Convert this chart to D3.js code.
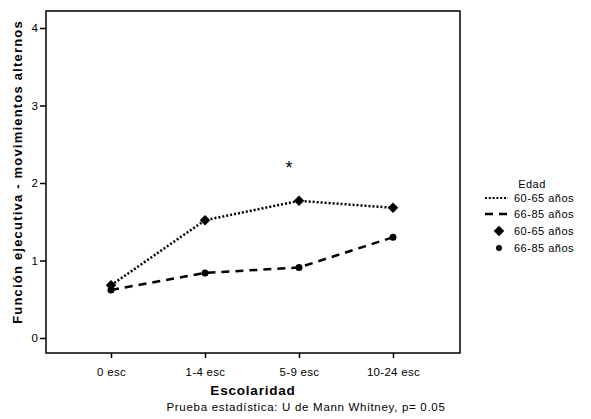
<!DOCTYPE html>
<html>
<head>
<meta charset="utf-8">
<script src="https://cdn.jsdelivr.net/npm/d3@7"></script>
<style>
  body { margin: 0; background: #fff; }
  text { font-family: "Liberation Sans", Arial, sans-serif; fill: #000; }
</style>
</head>
<body>
<div id="chart"></div>
<script>
// Data
const categories = ["0 esc", "1-4 esc", "5-9 esc", "10-24 esc"];
const grupo6065 = [0.68, 1.52, 1.77, 1.68];
const grupo6685 = [0.62, 0.84, 0.91, 1.30];
const yTicks = [0, 1, 2, 3, 4];
const seriesNames = ["60-65 años", "66-85 años"];
const significant = [{ cat: "5-9 esc", value: 2.24 }];

// Layout
const width = 591, height = 419;
const frame = { left: 46, right: 460, top: 11, bottom: 353 };
const font = "Liberation Sans, Arial, sans-serif";

const svg = d3.select("#chart").append("svg")
    .attr("width", width)
    .attr("height", height);

// Scales
const x = d3.scalePoint()
    .domain(categories)
    .range([111, 393]);

const y = d3.scaleLinear()
    .domain([0, 4])
    .range([338, 28]);

// Frame
svg.append("rect")
    .attr("x", frame.left)
    .attr("y", frame.top)
    .attr("width", frame.right - frame.left)
    .attr("height", frame.bottom - frame.top)
    .attr("fill", "none")
    .attr("stroke", "#000")
    .attr("stroke-width", 1.5);

// Y axis
const yAxis = svg.append("g")
    .attr("transform", "translate(" + frame.left + ",0)")
    .call(d3.axisLeft(y).tickValues(yTicks).tickSize(6).tickPadding(2).tickFormat(d3.format("d")));
yAxis.select(".domain").remove();
yAxis.selectAll("line").attr("stroke", "#000").attr("stroke-width", 1.5);
yAxis.selectAll("text").attr("fill", "#000").style("font-size", "11.5px").style("font-family", font);

// X axis
const xAxis = svg.append("g")
    .attr("transform", "translate(0," + frame.bottom + ")")
    .call(d3.axisBottom(x).tickSize(5).tickPadding(10));
xAxis.select(".domain").remove();
xAxis.selectAll("line").attr("stroke", "#000").attr("stroke-width", 1.5);
xAxis.selectAll("text").attr("fill", "#000").style("font-size", "11.5px").style("font-family", font)
    .style("letter-spacing", "0.3px");

// Axis titles
svg.append("text")
    .attr("transform", "translate(22,172) rotate(-90)")
    .attr("text-anchor", "middle")
    .style("font-size", "13px")
    .style("font-weight", "bold")
    .style("letter-spacing", "1.2px")
    .text("Función ejecutiva - movimientos alternos");

svg.append("text")
    .attr("x", (frame.left + frame.right) / 2)
    .attr("y", 395)
    .attr("text-anchor", "middle")
    .style("font-size", "13.5px")
    .style("font-weight", "bold")
    .style("letter-spacing", "0.8px")
    .text("Escolaridad");

svg.append("text")
    .attr("x", 306)
    .attr("y", 411)
    .attr("text-anchor", "middle")
    .style("font-size", "11.5px")
    .style("letter-spacing", "0.7px")
    .text("Prueba estadística: U de Mann Whitney, p= 0.05");

// Lines
const line = d3.line()
    .x((d, i) => x(categories[i]))
    .y(d => y(d));

svg.append("path")
    .datum(grupo6065)
    .attr("d", line)
    .attr("fill", "none")
    .attr("stroke", "#000")
    .attr("stroke-width", 2.5)
    .attr("stroke-dasharray", "2,2");

svg.append("path")
    .datum(grupo6685)
    .attr("d", line)
    .attr("fill", "none")
    .attr("stroke", "#000")
    .attr("stroke-width", 2.5)
    .attr("stroke-dasharray", "8,6");

// Markers
const diamond = d3.symbol().type(d3.symbolDiamond2).size(70);

svg.append("g").selectAll("path")
    .data(grupo6065)
    .enter().append("path")
    .attr("d", diamond)
    .attr("transform", (d, i) => "translate(" + x(categories[i]) + "," + y(d) + ")")
    .attr("fill", "#000");

svg.append("g").selectAll("circle")
    .data(grupo6685)
    .enter().append("circle")
    .attr("cx", (d, i) => x(categories[i]))
    .attr("cy", d => y(d))
    .attr("r", 3.5)
    .attr("fill", "#000");

// Significance mark
svg.selectAll(".sig")
    .data(significant)
    .enter().append("text")
    .attr("class", "sig")
    .attr("x", d => x(d.cat) - 10)
    .attr("y", d => y(d.value) + 10)
    .attr("text-anchor", "middle")
    .style("font-size", "18px")
    .text("*");

// Legend
const legend = svg.append("g");

legend.append("text")
    .attr("x", 532)
    .attr("y", 188)
    .attr("text-anchor", "middle")
    .style("font-size", "11px")
    .style("letter-spacing", "0.5px")
    .text("Edad");

const rowY = [202, 218, 235, 252];
const lx0 = 485, lx1 = 508, ltx = 514;

legend.append("line")
    .attr("x1", lx0).attr("x2", lx1)
    .attr("y1", rowY[0] - 4).attr("y2", rowY[0] - 4)
    .attr("stroke", "#000").attr("stroke-width", 2)
    .attr("stroke-dasharray", "2,1.8");

legend.append("line")
    .attr("x1", lx0).attr("x2", lx1)
    .attr("y1", rowY[1] - 4).attr("y2", rowY[1] - 4)
    .attr("stroke", "#000").attr("stroke-width", 2.5)
    .attr("stroke-dasharray", "8,6");

legend.append("path")
    .attr("d", diamond)
    .attr("transform", "translate(" + (lx0 + 14) + "," + (rowY[2] - 4) + ")")
    .attr("fill", "#000");

legend.append("circle")
    .attr("cx", lx0 + 14)
    .attr("cy", rowY[3] - 4)
    .attr("r", 3)
    .attr("fill", "#000");

legend.selectAll(".lt")
    .data(seriesNames.concat(seriesNames))
    .enter().append("text")
    .attr("class", "lt")
    .attr("x", ltx)
    .attr("y", (d, i) => rowY[i])
    .style("font-size", "11px")
    .style("letter-spacing", "0.5px")
    .text(d => d);
</script>
</body>
</html>
